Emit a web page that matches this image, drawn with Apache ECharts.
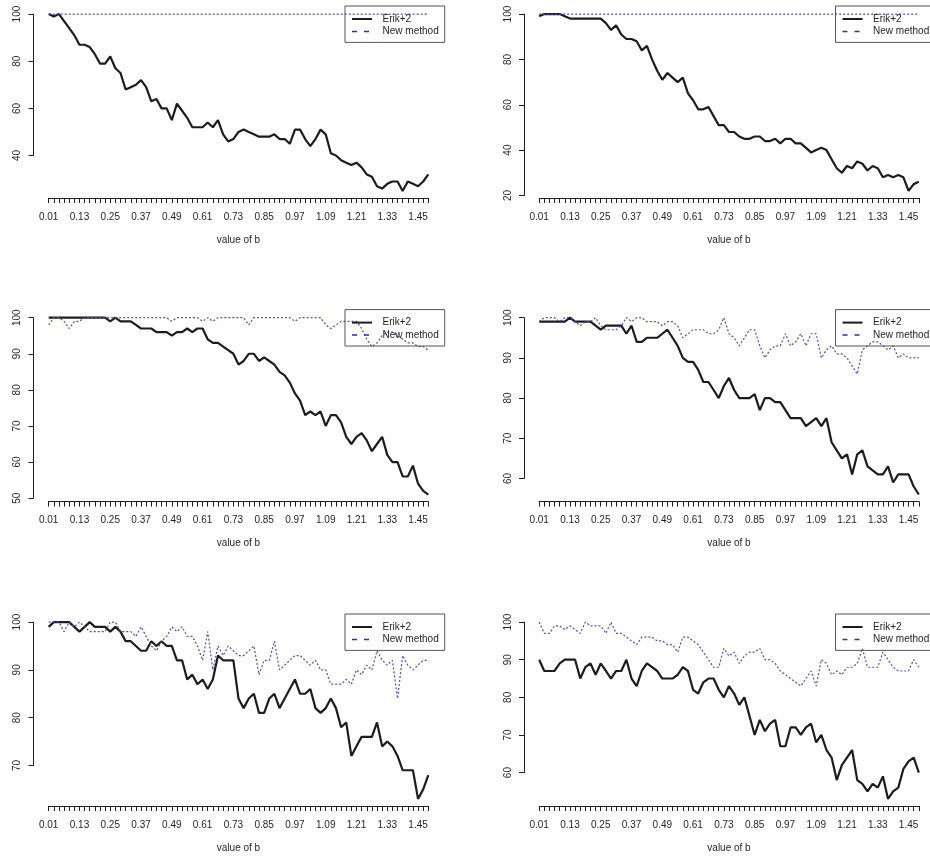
<!DOCTYPE html>
<html><head><meta charset="utf-8">
<script src="https://cdn.jsdelivr.net/npm/echarts@6/dist/echarts.min.js"></script>
<style>html,body{margin:0;padding:0;background:#fff}#c{width:930px;height:856px}</style>
</head><body><div id="c"></div><script>
const categories = ["0.01","0.03","0.05","0.07","0.09","0.11","0.13","0.15","0.17","0.19","0.21","0.23","0.25","0.27","0.29","0.31","0.33","0.35","0.37","0.39","0.41","0.43","0.45","0.47","0.49","0.51","0.53","0.55","0.57","0.59","0.61","0.63","0.65","0.67","0.69","0.71","0.73","0.75","0.77","0.79","0.81","0.83","0.85","0.87","0.89","0.91","0.93","0.95","0.97","0.99","1.01","1.03","1.05","1.07","1.09","1.11","1.13","1.15","1.17","1.19","1.21","1.23","1.25","1.27","1.29","1.31","1.33","1.35","1.37","1.39","1.41","1.43","1.45","1.47","1.49"];

const erik1 = [100,99,100,97,94,91,87,87,86,83,79,79,82,77,75,68,69,70,72,69,63,64,60,60,55,62,59,56,52,52,52,54,52,55,49,46,47,50,51,50,49,48,48,48,49,47,47,45,51,51,47,44,47,51,49,41,40,38,37,36,37,35,32,31,27,26,28,29,29,25,29,28,27,29,32];
const new1 = [100,100,100,100,100,100,100,100,100,100,100,100,100,100,100,100,100,100,100,100,100,100,100,100,100,100,100,100,100,100,100,100,100,100,100,100,100,100,100,100,100,100,100,100,100,100,100,100,100,100,100,100,100,100,100,100,100,100,100,100,100,100,100,100,100,100,100,100,100,100,100,100,100,100,100];
const erik2 = [99,100,100,100,100,99,98,98,98,98,98,98,98,96,93,95,91,89,89,88,84,86,80,75,71,74,72,70,72,65,62,58,58,59,55,51,51,48,48,46,45,45,46,46,44,44,45,43,45,45,43,43,41,39,40,41,40,36,32,30,33,32,35,34,31,33,32,28,29,28,29,28,22,25,26];
const new2 = [100,100,100,100,100,100,100,100,100,100,100,100,100,100,100,100,100,100,100,100,100,100,100,100,100,100,100,100,100,100,100,100,100,100,100,100,100,100,100,100,100,100,100,100,100,100,100,100,100,100,100,100,100,100,100,100,100,100,100,100,100,100,100,100,100,100,100,100,100,100,100,100,100,100,100];
const erik3 = [100,100,100,100,100,100,100,100,100,100,100,100,99,100,99,99,99,98,97,97,97,96,96,96,95,96,96,97,96,97,97,94,93,93,92,91,90,87,88,90,90,88,89,88,87,85,84,82,79,77,73,74,73,74,70,73,73,71,67,65,67,68,66,63,65,67,62,60,60,56,56,59,54,52,51];
const new3 = [98,100,100,99,97,99,99,100,100,100,100,100,100,100,100,100,100,100,100,100,100,100,100,100,99,100,100,100,100,100,99,100,99,100,100,100,100,100,100,98,100,100,100,100,100,100,100,100,99,100,100,100,100,100,98,97,98,99,99,99,99,97,94,92,93,95,96,96,95,94,93,93,92,92,91];
const erik4 = [99,99,99,99,99,99,100,99,99,99,99,98,97,98,98,98,98,96,98,94,94,95,95,95,96,97,95,93,90,89,89,87,84,84,82,80,83,85,82,80,80,80,81,77,80,80,79,79,77,75,75,75,73,74,75,73,75,69,67,65,66,61,66,67,63,62,61,61,63,59,61,61,61,58,56];
const new4 = [99,100,100,100,99,100,100,99,98,99,99,100,98,97,97,97,98,100,99,100,100,99,99,99,98,99,99,98,95,96,97,97,97,96,96,97,100,96,95,93,95,97,97,93,90,92,93,93,96,93,94,96,93,96,96,90,92,93,91,91,90,88,86,92,93,94,94,93,92,93,90,91,90,90,90];
const erik5 = [99,100,100,100,100,99,98,99,100,99,99,99,98,99,98,96,96,95,94,94,96,95,96,95,95,92,92,88,89,87,88,86,88,93,92,92,92,84,82,84,85,81,81,84,85,82,84,86,88,85,85,86,82,81,82,84,82,78,79,72,74,76,76,76,79,74,75,74,72,69,69,69,63,65,68];
const new5 = [100,100,100,98,100,99,100,99,98,98,98,98,100,100,98,98,98,97,99,97,95,94,96,97,99,98,99,97,97,95,92,98,90,95,93,95,94,93,93,94,95,89,92,92,96,90,91,92,93,93,92,91,92,90,90,87,87,87,88,87,90,89,91,90,94,92,91,92,84,93,91,90,91,92,92];
const erik6 = [90,87,87,87,89,90,90,90,85,88,89,86,89,87,85,87,87,90,85,83,87,89,88,87,85,85,85,86,88,87,82,81,84,85,85,82,80,83,81,78,80,75,70,74,71,73,74,67,67,72,72,70,72,73,68,70,66,64,58,62,64,66,58,57,55,57,56,59,53,55,56,61,63,64,60];
const new6 = [100,97,97,99,99,98,99,98,97,100,99,99,99,97,100,97,97,96,95,94,96,96,96,95,95,94,94,92,96,96,95,94,92,90,88,88,93,91,92,89,91,92,92,93,90,90,89,87,86,85,84,83,85,87,83,90,89,86,87,86,88,88,89,93,88,88,88,92,90,88,87,87,87,90,88];

const yTicks1 = [40,60,80,100];
const yTicks2 = [20,40,60,80,100];
const yTicks3 = [50,60,70,80,90,100];
const yTicks4 = [60,70,80,90,100];
const yTicks5 = [70,80,90,100];
const yTicks6 = [60,70,80,90,100];

const seriesNames = ["Erik+2","New method"];
const xTitle = "value of b";

const panels = [
  {erik:erik1, newm:new1, ticks:yTicks1},
  {erik:erik2, newm:new2, ticks:yTicks2},
  {erik:erik3, newm:new3, ticks:yTicks3},
  {erik:erik4, newm:new4, ticks:yTicks4},
  {erik:erik5, newm:new5, ticks:yTicks5},
  {erik:erik6, newm:new6, ticks:yTicks6}
];

const colLeft = [33.5, 524];
const rowTop = [7, 310.6, 615];
const plotW = 410, plotH = 191;
const FONT = "Liberation Sans, Arial, Helvetica, sans-serif";
const INK = "#1e1e1e";
const ERIK_COLOR = "#1c1c1c";
const NEW_COLOR = "#4a4ad4";

const grids = [], xAxes = [], yAxes = [], series = [], legends = [];
panels.forEach((p, k) => {
  const r = Math.floor(k / 2), c = k % 2;
  const n = categories.length;
  const unitX = plotW / ((n - 1) * 1.08);
  const padX = 0.04 * (n - 1) * unitX;
  const all = p.erik.concat(p.newm);
  const dmin = Math.min(...all), dmax = Math.max(...all);
  const lo = dmin - 0.04 * (dmax - dmin), hi = dmax + 0.04 * (dmax - dmin);
  const pu = plotH / (hi - lo);
  const tMin = p.ticks[0], tMax = p.ticks[p.ticks.length - 1];
  const gTop = rowTop[r] + (hi - tMax) * pu;
  const gH = (tMax - tMin) * pu;
  const xOff = (tMin - lo) * pu;
  grids.push({left: colLeft[c] + padX, top: gTop, width: (n - 1) * unitX, height: gH, containLabel: false});
  xAxes.push({
    gridIndex: k, type: 'category', data: categories, boundaryGap: false, offset: xOff,
    axisLine: {show: true, lineStyle: {color: INK, width: 1}},
    axisTick: {show: true, interval: 0, length: 5, lineStyle: {color: INK, width: 1}},
    axisLabel: {interval: (i) => i % 6 === 0, margin: 14, fontSize: 10, color: INK, fontFamily: FONT},
    splitLine: {show: false},
    name: xTitle, nameLocation: 'middle', nameGap: 37,
    nameTextStyle: {fontSize: 10, color: INK, fontFamily: FONT}
  });
  yAxes.push({
    gridIndex: k, type: 'value', min: tMin, max: tMax, interval: p.ticks[1] - p.ticks[0], offset: padX,
    axisLine: {show: true, lineStyle: {color: INK, width: 1}},
    axisTick: {show: true, length: 5, lineStyle: {color: INK, width: 1}},
    axisLabel: {rotate: 90, margin: 11, fontSize: 10, color: INK, fontFamily: FONT},
    splitLine: {show: false}
  });
  series.push({
    name: seriesNames[0], type: 'line', xAxisIndex: k, yAxisIndex: k, data: p.erik,
    symbol: 'none', clip: false, silent: true, animation: false,
    lineStyle: {color: ERIK_COLOR, width: 2.2}, itemStyle: {color: ERIK_COLOR}, z: 2
  });
  series.push({
    name: seriesNames[1], type: 'line', xAxisIndex: k, yAxisIndex: k, data: p.newm,
    symbol: 'none', clip: false, silent: true, animation: false,
    lineStyle: {color: NEW_COLOR, width: 1.2, type: [2, 2]}, itemStyle: {color: NEW_COLOR}, z: 3
  });
  legends.push({
    left: colLeft[c] + 311.5, top: rowTop[r] - 1, orient: 'vertical',
    data: [
      {name: seriesNames[0], itemStyle: {opacity: 0}},
      {name: seriesNames[1], itemStyle: {opacity: 0}, lineStyle: {type: [5, 7], width: 1.5, color: '#2a2ac8'}}
    ],
    itemStyle: {opacity: 0},
    padding: [7, 6, 5, 6], itemWidth: 20, itemHeight: 12, itemGap: 0.4,
    borderColor: '#555', borderWidth: 1, borderRadius: 0,
    selectedMode: false,
    formatter: name => '  ' + name,
    textStyle: {fontSize: 10, color: INK, fontFamily: FONT, lineHeight: 12}
  });
});

const chart = echarts.init(document.getElementById('c'), null, {renderer: 'canvas'});
chart.setOption({
  backgroundColor: '#ffffff',
  animation: false,
  grid: grids, xAxis: xAxes, yAxis: yAxes, series: series, legend: legends
});
</script></body></html>
